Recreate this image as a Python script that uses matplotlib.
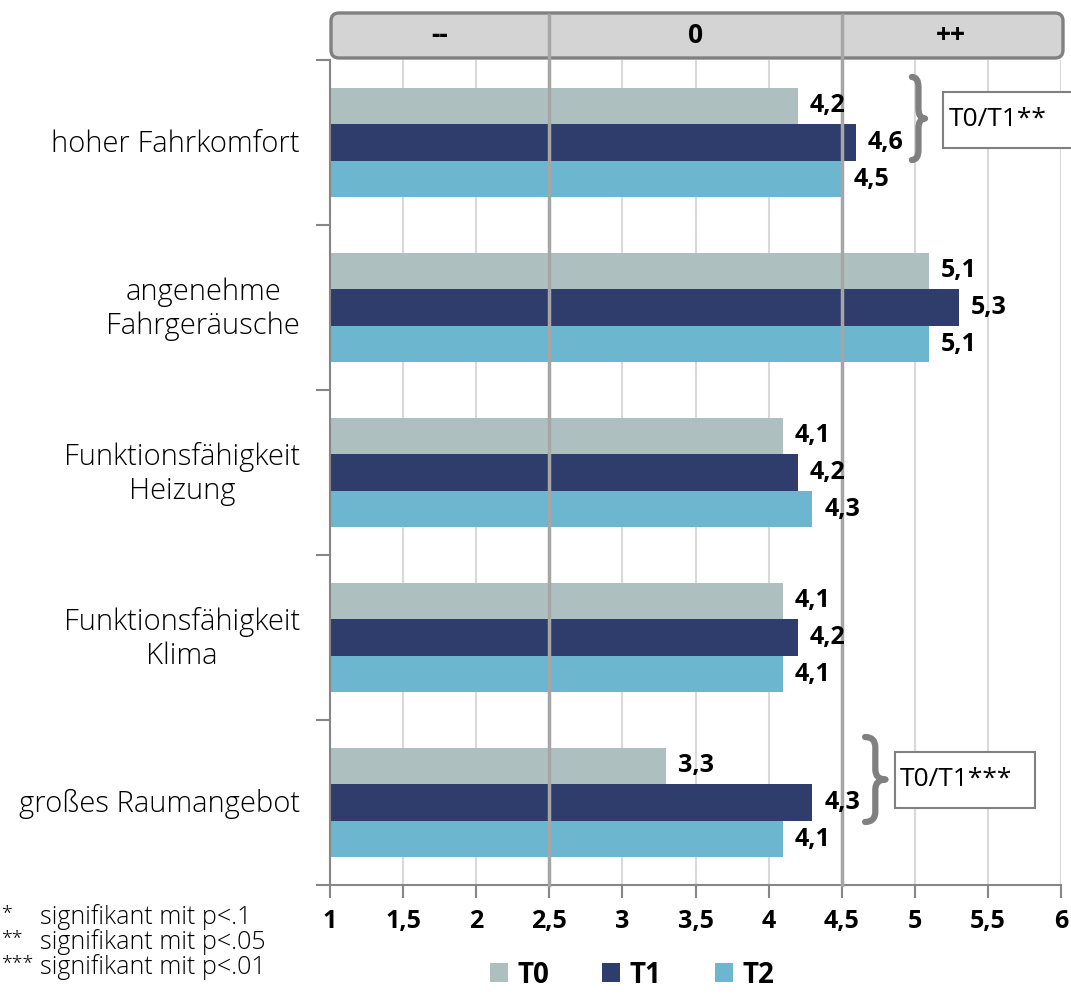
import numpy as np
import matplotlib
matplotlib.use('Agg')
import matplotlib.pyplot as plt
import matplotlib.transforms as mtransforms
from matplotlib.patches import FancyBboxPatch, Rectangle, Patch, PathPatch
from matplotlib.path import Path

categories = ['hoher Fahrkomfort', 'angenehme\nFahrgeräusche', 'Funktionsfähigkeit\nHeizung',
              'Funktionsfähigkeit\nKlima', 'großes Raumangebot']
series = ['T0', 'T1', 'T2']
t0 = [4.2, 5.1, 4.1, 4.1, 3.3]
t1 = [4.6, 5.3, 4.2, 4.2, 4.3]
t2 = [4.5, 5.1, 4.3, 4.1, 4.1]
colors = ['#AEBFBF', '#2E3D6B', '#6CB6CF']
xticks = [1, 1.5, 2, 2.5, 3, 3.5, 4, 4.5, 5, 5.5, 6]
xticklabels = ['1', '1,5', '2', '2,5', '3', '3,5', '4', '4,5', '5', '5,5', '6']
header = ['--', '0', '++']
header_x = [1.75, 3.5, 5.25]
sig_text = ['T0/T1**', None, None, None, 'T0/T1***']
footnotes = [('*', 'signifikant mit p<.1'), ('**', 'signifikant mit p<.05'), ('***', 'signifikant mit p<.01')]

plt.rcParams['font.family'] = ['Open Sans', 'DejaVu Sans']

fig = plt.figure(figsize=(10.71, 9.96), dpi=100)
ax = fig.add_axes([330/1071, 1-885/996, 731/1071, 825/996])

h = 0.222
y = np.arange(len(categories))
for i, (vals, c) in enumerate(zip([t0, t1, t2], colors)):
    ypos = y + (i-1)*h
    ax.barh(ypos, vals, left=0, height=h, color=c, zorder=2, label=series[i])
    for yy, v in zip(ypos, vals):
        ax.text(v + 0.08, yy, ('%.1f' % v).replace('.', ','), ha='left', va='center',
                fontsize=18, fontweight='bold', zorder=6)

ax.set_xlim(1, 6)
ax.set_ylim(len(categories)-0.5, -0.5)
ax.set_xticks(xticks)
ax.set_xticklabels(xticklabels, fontsize=18, fontweight='bold')
ax.set_yticks(np.arange(len(categories)+1) - 0.5)
ax.set_yticklabels([])
ax.tick_params(axis='x', length=9, width=1.5, color='#868686', pad=8, direction='out')
ax.tick_params(axis='y', length=10, width=1.5, color='#868686', direction='out')
ax.grid(axis='x', color='#d9d9d9', lw=1.5, zorder=0)
ax.set_axisbelow(True)
for s in ['top', 'right']:
    ax.spines[s].set_visible(False)
for s in ['left', 'bottom']:
    ax.spines[s].set_color('#868686')
    ax.spines[s].set_linewidth(1.5)

# category labels
ytr = ax.get_yaxis_transform()
for yy, lab in zip(y, categories):
    ax.text(-0.041, yy + 0.01, lab, transform=ytr, ha='right', va='center', multialignment='center',
            fontsize=21, fontweight='light', linespacing=1.2)

# header box
hb = FancyBboxPatch((3.31, 9.38), 7.32, 0.45, boxstyle='round,pad=0,rounding_size=0.08',
                    transform=fig.dpi_scale_trans, facecolor='#d4d4d4', edgecolor='#808080',
                    lw=2.4, clip_on=False, zorder=3)
ax.add_patch(hb)
htr = mtransforms.blended_transform_factory(ax.transData, fig.dpi_scale_trans)
for hx, ht in zip(header_x, header):
    ax.text(hx, 9.61, ht, transform=htr, ha='center', va='center', fontsize=19,
            fontweight='bold', zorder=7)
for xv in [2.5, 4.5]:
    ax.axvline(xv, ymin=0, ymax=(885-15)/825, color='#a6a6a6', lw=2.5, zorder=4, clip_on=False)

# braces and significance boxes
def brace(x0, x1, ya, yb):
    xm = (x0 + x1) / 2
    ym = (ya + yb) / 2
    d = (yb - ya) * 0.12
    verts = [(x0, ya), (xm, ya), (xm, ya + d), (xm, ym - d), (xm, ym), (x1, ym),
             (xm, ym), (xm, ym + d), (xm, yb - d), (xm, yb), (x0, yb)]
    codes = [Path.MOVETO, Path.CURVE3, Path.CURVE3, Path.LINETO, Path.CURVE3, Path.CURVE3,
             Path.CURVE3, Path.CURVE3, Path.LINETO, Path.CURVE3, Path.CURVE3]
    ax.add_patch(PathPatch(Path(verts, codes), fill=False, edgecolor='#808080', lw=4.5,
                           capstyle='round', joinstyle='round', clip_on=False, zorder=5))

brace(4.98, 5.07, -0.397, 0.106)
ax.add_patch(Rectangle((5.19, -0.306), 1.0, 0.339, facecolor='white', edgecolor='#808080',
                       lw=1.5, clip_on=False, zorder=5))
ax.text(5.23, -0.14, sig_text[0], ha='left', va='center', fontsize=19, zorder=6)

brace(4.66, 4.80, 3.603, 4.118)
ax.add_patch(Rectangle((4.865, 3.694), 0.955, 0.339, facecolor='white', edgecolor='#808080',
                       lw=1.5, clip_on=False, zorder=5))
ax.text(4.9, 3.86, sig_text[4], ha='left', va='center', fontsize=19, zorder=6)

# footnotes
for k, (st, txt) in enumerate(footnotes):
    yf = 1 - (917 + 25*k)/996
    fig.text(1/1071, yf + 0.004, st, ha='left', va='center', fontsize=14, fontweight='light')
    fig.text(40/1071, yf, txt, ha='left', va='center', fontsize=18, fontweight='light')

# legend
handles = [Patch(facecolor=c, edgecolor='none') for c in colors]
leg = fig.legend(handles, series, loc='center', bbox_to_anchor=(632/1071, 1-975/996), ncol=3,
                 frameon=False, handlelength=0.65, handleheight=0.65, handletextpad=0.35,
                 columnspacing=1.9, prop={'weight': 'bold', 'size': 20})

fig.savefig('out.png', dpi=100)
